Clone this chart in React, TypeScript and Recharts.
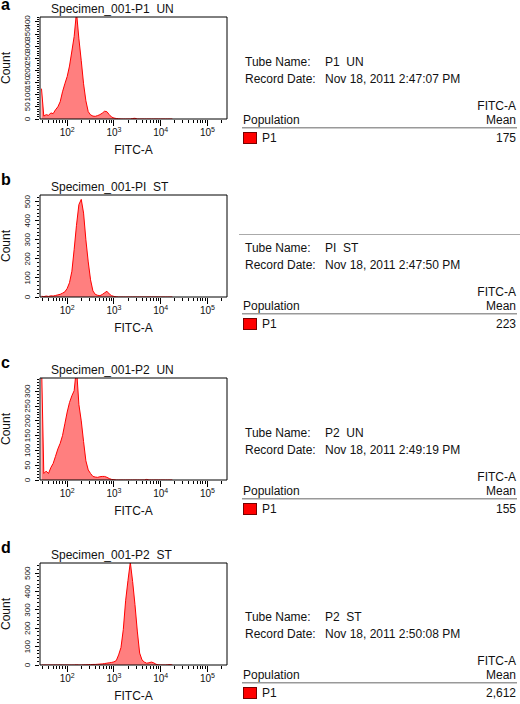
import { AreaChart, Area, XAxis, YAxis, ReferenceArea } from 'recharts';

// FITC-A bin centres (log spaced), shared by all four histograms
const fitcBins = [
  28.2, 31.6, 35.5, 39.8, 44.7, 50.1, 56.2, 63.1, 70.8, 79.4,
  89.1, 100, 112, 126, 141, 158, 178, 200, 224, 251,
  282, 316, 355, 398, 447, 501, 562, 631, 708, 794,
  891, 1000, 1122, 1259, 1413, 1585, 1778, 1995, 2239, 2512,
  2818, 3162, 3548, 3981, 4467, 5012, 5623, 6310, 7079, 7943,
  8913, 10000, 11220, 12589, 14125, 15849, 17783,
];

const countsA = [
  125, 12, 18, 15, 25, 22, 38, 50, 71, 112,
  145, 175, 218, 280, 340, 440, 330, 240, 145, 75,
  30, 17, 12, 11, 14, 18, 24, 32, 30, 18,
  8, 4, 2, 1, 0, 0, 0, 0, 0, 2,
  3, 0, 0, 0, 0, 0, 0, 0, 0, 0,
  0, 0, 0, 0, 0, 0, 0,
];

const countsB = [
  4, 2, 5, 3, 6, 5, 8, 11, 14, 20,
  27, 45, 75, 135, 250, 376, 485, 512, 440, 300,
  184, 90, 32, 14, 9, 7, 13, 22, 30, 16,
  7, 3, 1, 0, 0, 0, 0, 0, 0, 0,
  0, 0, 0, 0, 0, 0, 0, 0, 0, 0,
  0, 0, 0, 0, 0, 0, 0,
];

const countsC = [
  400, 22, 30, 22, 42, 56, 80, 105, 124, 150,
  190, 230, 262, 285, 302, 380, 255, 200, 130, 65,
  34, 22, 12, 10, 9, 11, 12, 12, 9, 5,
  2, 1, 0, 0, 0, 0, 0, 0, 0, 0,
  0, 0, 0, 0, 0, 2, 0, 0, 0, 0,
  0, 0, 0, 0, 0, 0, 0,
];

const countsD = [
  0, 0, 0, 0, 0, 0, 0, 0, 0, 0,
  0, 0, 0, 0, 0, 1, 0, 0, 1, 1,
  2, 2, 3, 3, 4, 5, 6, 8, 10, 12,
  14, 17, 24, 55, 95, 193, 350, 460, 560, 455,
  329, 185, 65, 28, 16, 10, 12, 16, 12, 4,
  1, 0, 0, 0, 1, 2, 0,
];

const panelLetters = ['a', 'b', 'c', 'd'];
const specimenTitles = [
  'Specimen_001-P1  UN',
  'Specimen_001-PI  ST',
  'Specimen_001-P2  UN',
  'Specimen_001-P2  ST',
];
const tubeNames = ['P1  UN', 'PI  ST', 'P2  UN', 'P2  ST'];
const recordDates = [
  'Nov 18, 2011 2:47:07 PM',
  'Nov 18, 2011 2:47:50 PM',
  'Nov 18, 2011 2:49:19 PM',
  'Nov 18, 2011 2:50:08 PM',
];
const fitcMeans = ['175', '223', '155', '2,612'];

const countSeries = [countsA, countsB, countsC, countsD];
const countMax = [420, 535, 345, 556];
const countLabels = [
  [0, 50, 100, 150, 200, 250, 300, 350, 400],
  [0, 100, 200, 300, 400, 500],
  [0, 50, 100, 150, 200, 250, 300],
  [0, 100, 200, 300, 400, 500],
];
const countMinorStep = [10, 20, 10, 20];

const xMajorTicks = [100, 1000, 10000, 100000];
const xMinorTicks = [
  30, 40, 50, 60, 70, 80, 90,
  200, 300, 400, 500, 600, 700, 800, 900,
  2000, 3000, 4000, 5000, 6000, 7000, 8000, 9000,
  20000, 30000, 40000, 50000, 60000, 70000, 80000, 90000,
  200000,
];

// layout (page pixels)
const boxTops = [17, 195, 378, 563];
const tableShift = [0, 186, 371, 555];
const letterTops = [0, 175, 358, 543];

const FONT = '"Liberation Sans", Arial, sans-serif';
const INK = '#111';

function XTick(props: any) {
  const { x, y, payload } = props;
  const v = payload.value;
  const major = xMajorTicks.includes(v);
  return (
    <g>
      <line x1={x} x2={x} y1={y + 1} y2={y + (major ? 7 : 4)} stroke="#000" shapeRendering="crispEdges" />
      {major && (
        <text x={x} y={y + 17} textAnchor="middle" fontSize={10} fontFamily={FONT} fill={INK}>
          10
          <tspan dy={-4} fontSize={7}>{Math.round(Math.log10(v))}</tspan>
        </text>
      )}
    </g>
  );
}

function YTick(props: any) {
  const { x, y, payload, labels } = props;
  const v = payload.value;
  const major = labels.includes(v);
  return (
    <g>
      <line x1={x - 1} x2={x - (major ? 5 : 3)} y1={y} y2={y} stroke="#000" shapeRendering="crispEdges" />
      {major && (
        <text
          transform={`translate(${x - 10},${y}) rotate(-90)`}
          textAnchor="middle"
          fontSize={8}
          fontFamily={FONT}
          fill={INK}
        >
          {v}
        </text>
      )}
    </g>
  );
}

function Histogram({ counts, yMax, yLabels, minorStep }: any) {
  const data = fitcBins.map((x, i) => ({ x, count: counts[i] }));
  const yTicks: number[] = [];
  for (let v = 0; v <= yMax; v += minorStep) yTicks.push(v);
  return (
    <AreaChart width={232} height={147} data={data} margin={{ top: 5, right: 5, bottom: 0, left: 10 }}>
      <XAxis
        dataKey="x"
        type="number"
        scale="log"
        domain={[26.2, 262144]}
        allowDataOverflow
        ticks={[...xMajorTicks, ...xMinorTicks]}
        interval={0}
        axisLine={false}
        tickLine={false}
        tickSize={0}
        tickMargin={0}
        height={40}
        tick={(p: any) => <XTick {...p} />}
        label={{ value: 'FITC-A', position: 'insideBottom', offset: 5, fontSize: 12, fill: INK, fontFamily: FONT }}
      />
      <YAxis
        type="number"
        domain={[0, yMax]}
        allowDataOverflow
        ticks={yTicks}
        interval={0}
        width={30}
        axisLine={false}
        tickLine={false}
        tickSize={0}
        tickMargin={0}
        tick={(p: any) => <YTick {...p} labels={yLabels} />}
      />
      <Area
        type="linear"
        dataKey="count"
        stroke="#ff0000"
        strokeWidth={1}
        fill="#ff0000"
        fillOpacity={0.5}
        isAnimationActive={false}
        dot={false}
        activeDot={false}
      />
      <ReferenceArea
        x1={26.2}
        x2={262144}
        y1={0}
        y2={yMax}
        fill="none"
        fillOpacity={0}
        stroke="#000"
        strokeWidth={1}
        ifOverflow="visible"
      />
    </AreaChart>
  );
}

function InfoTable({ i }: { i: number }) {
  const s = tableShift[i];
  const txt = { position: 'absolute' as const, fontSize: 12, lineHeight: '14px', whiteSpace: 'pre' as const, color: INK };
  return (
    <>
      {i === 1 && (
        <div style={{ position: 'absolute', left: 239, top: s + 48, width: 281, height: 1, background: '#aaa' }} />
      )}
      <div style={{ ...txt, left: 245, top: s + 55 }}>Tube Name:</div>
      <div style={{ ...txt, left: 325, top: s + 55 }}>{tubeNames[i]}</div>
      <div style={{ ...txt, left: 245, top: s + 72 }}>Record Date:</div>
      <div style={{ ...txt, left: 325, top: s + 72 }}>{recordDates[i]}</div>
      <div style={{ ...txt, right: 4, top: s + 99, textAlign: 'right' }}>FITC-A</div>
      <div style={{ ...txt, left: 243, top: s + 113 }}>Population</div>
      <div style={{ ...txt, right: 4, top: s + 113, textAlign: 'right' }}>Mean</div>
      <div style={{ position: 'absolute', left: 242, top: s + 127, width: 275, height: 1, background: '#999' }} />
      <div style={{ position: 'absolute', left: 242, top: s + 128, width: 275, height: 1, background: '#ccc' }} />
      <div
        style={{
          position: 'absolute',
          left: 243,
          top: s + 132,
          width: 12,
          height: 10,
          background: '#ff0000',
          border: '1px solid #700',
        }}
      />
      <div style={{ ...txt, left: 262, top: s + 131 }}>P1</div>
      <div style={{ ...txt, right: 4, top: s + 131, textAlign: 'right' }}>{fitcMeans[i]}</div>
    </>
  );
}

export default function App() {
  return (
    <div
      style={{
        position: 'absolute',
        left: 0,
        top: 0,
        width: 520,
        height: 704,
        background: '#fff',
        fontFamily: FONT,
        overflow: 'hidden',
      }}
    >
      {panelLetters.map((letter, i) => (
        <div key={letter}>
          <div
            style={{
              position: 'absolute',
              left: 1,
              top: letterTops[i],
              fontSize: 16,
              lineHeight: '10px',
              fontWeight: 'bold',
              color: '#000',
            }}
          >
            {letter}
          </div>
          <div
            style={{
              position: 'absolute',
              left: 51,
              top: boxTops[i] - 15,
              fontSize: 12,
              lineHeight: '14px',
              whiteSpace: 'pre',
              color: INK,
            }}
          >
            {specimenTitles[i]}
          </div>
          <div
            style={{
              position: 'absolute',
              left: 6,
              top: boxTops[i] + 51,
              fontSize: 12,
              lineHeight: '14px',
              color: INK,
              transform: 'translate(-50%, -50%) rotate(-90deg)',
            }}
          >
            Count
          </div>
          <div style={{ position: 'absolute', left: 0, top: boxTops[i] - 5 }}>
            <Histogram
              counts={countSeries[i]}
              yMax={countMax[i]}
              yLabels={countLabels[i]}
              minorStep={countMinorStep[i]}
            />
          </div>
          <InfoTable i={i} />
        </div>
      ))}
    </div>
  );
}
